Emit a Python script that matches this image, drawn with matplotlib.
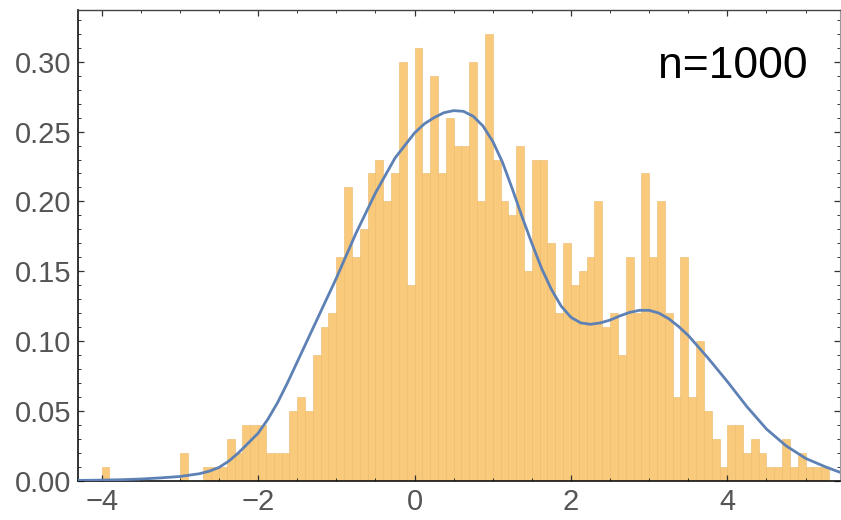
import numpy as np
import matplotlib
matplotlib.use("Agg")
import matplotlib.pyplot as plt
from matplotlib.ticker import MultipleLocator, FormatStrFormatter

plt.rcParams['font.family'] = ['Liberation Sans', 'DejaVu Sans']

# histogram: counts per 0.1-wide bin, first bin starts at -4.0
n = 1000
bin_start = -4.0
bin_width = 0.1
counts = [
    1, 0, 0, 0, 0, 0, 0, 0, 0, 0,          # -4.0 .. -3.1
    2, 0, 0, 1, 1, 1, 3, 2, 4, 4,          # -3.0 .. -2.1
    4, 2, 2, 2, 5, 6, 5, 9, 11, 12,        # -2.0 .. -1.1
    16, 21, 16, 18, 22, 23, 20, 22, 30, 14,  # -1.0 .. -0.1
    31, 22, 29, 22, 26, 24, 24, 30, 20, 32,  # 0.0 .. 0.9
    23, 20, 19, 24, 15, 23, 23, 17, 12, 17,  # 1.0 .. 1.9
    14, 15, 16, 20, 11, 12, 9, 16, 12, 22,   # 2.0 .. 2.9
    16, 20, 12, 6, 16, 6, 10, 5, 3, 1,       # 3.0 .. 3.9
    4, 4, 2, 3, 2, 1, 1, 3, 1, 2,            # 4.0 .. 4.9
    1, 1, 1,                                 # 5.0 .. 5.2
]

# density curve
curve_x = [-4.3, -4.0, -3.75, -3.5, -3.25, -3.0, -2.75, -2.625, -2.5, -2.375,
           -2.25, -2.125, -2.0, -1.875, -1.75, -1.625, -1.5, -1.375, -1.25, -1.0,
           -0.75, -0.5, -0.25, 0.0, 0.125, 0.25, 0.375, 0.5, 0.625, 0.75,
           0.875, 1.0, 1.125, 1.25, 1.375, 1.5, 1.625, 1.75, 1.875, 2.0,
           2.125, 2.25, 2.375, 2.5, 2.625, 2.75, 2.875, 3.0, 3.125, 3.25,
           3.375, 3.5, 3.625, 3.75, 3.875, 4.0, 4.125, 4.25, 4.375, 4.5,
           4.75, 5.0, 5.25, 5.44]
curve_y = [0.0002, 0.0004, 0.0007, 0.0012, 0.002, 0.003, 0.005, 0.0068, 0.0095, 0.014,
           0.020, 0.027, 0.034, 0.044, 0.056, 0.070, 0.085, 0.100, 0.115, 0.145,
           0.177, 0.206, 0.231, 0.249, 0.2555, 0.260, 0.2635, 0.265, 0.2645, 0.261,
           0.254, 0.243, 0.228, 0.209, 0.189, 0.170, 0.152, 0.137, 0.125, 0.117,
           0.113, 0.112, 0.113, 0.115, 0.118, 0.1205, 0.122, 0.122, 0.120, 0.116,
           0.1105, 0.104, 0.096, 0.088, 0.0795, 0.071, 0.062, 0.053, 0.045, 0.037,
           0.025, 0.016, 0.010, 0.006]

counts = np.array(counts)
density = counts / (n * bin_width)
lefts = bin_start + bin_width * np.arange(len(counts))

fig = plt.figure(figsize=(8.41, 5.2), dpi=100)
ax = fig.add_axes([0.093, 0.0756, 0.9058, 0.905])

ax.bar(lefts, density, width=bin_width, align='edge',
       color='#F9C97C', edgecolor='#EDB96A', linewidth=0.4, zorder=1)
ax.plot(curve_x, curve_y, color='#5E81B5', linewidth=2.0, zorder=3,
        solid_joinstyle='round', solid_capstyle='round')

ax.set_xlim(-4.3, 5.44)
ax.set_ylim(0, 0.337)

ax.xaxis.set_major_locator(MultipleLocator(2))
ax.xaxis.set_minor_locator(MultipleLocator(0.5))
ax.yaxis.set_major_locator(MultipleLocator(0.05))
ax.yaxis.set_minor_locator(MultipleLocator(0.01))
ax.yaxis.set_major_formatter(FormatStrFormatter('%.2f'))

ax.tick_params(which='both', direction='in', top=True, right=True,
               labeltop=False, labelright=False, color='#333333')
ax.tick_params(which='major', length=4.5, width=0.9, labelsize=21,
               labelcolor='#555555', pad=5)
ax.tick_params(which='minor', length=2.3, width=0.7)

for side in ['left', 'bottom']:
    ax.spines[side].set_linewidth(1.2)
    ax.spines[side].set_color('#111111')
ax.spines['top'].set_linewidth(1.0)
ax.spines['top'].set_color('#444444')
ax.spines['right'].set_linewidth(0.8)
ax.spines['right'].set_color('#999999')

ax.text(0.958, 0.855, 'n=%d' % counts.sum(), transform=ax.transAxes,
        ha='right', va='baseline', fontsize=32, color='black')

fig.savefig('out.png', dpi=100)
